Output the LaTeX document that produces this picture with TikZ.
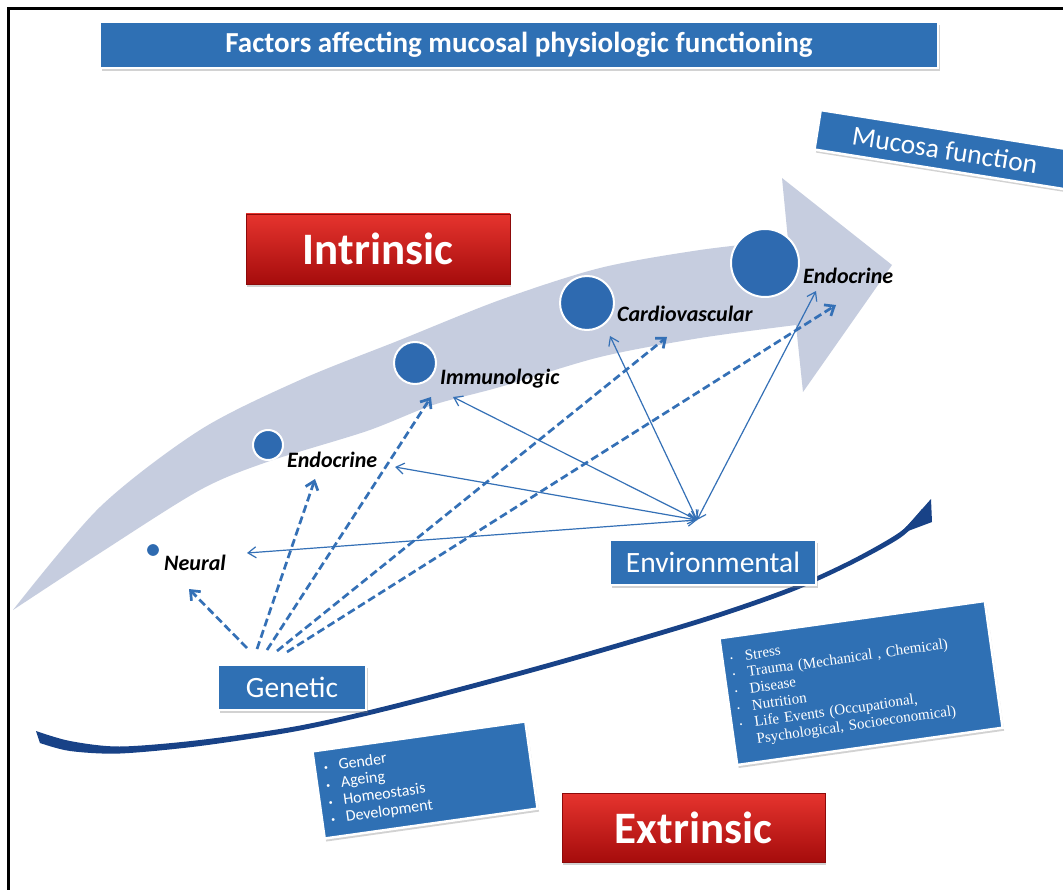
\documentclass[tikz,border=0pt]{standalone}
\usepackage{fontspec}
\setmainfont{Carlito}
\newfontfamily\timesf{Liberation Serif}
\usetikzlibrary{arrows.meta,shadows}
\definecolor{boxblue}{RGB}{47,112,180}
\definecolor{circblue}{RGB}{46,106,176}
\definecolor{arrowgrey}{RGB}{198,205,223}
\definecolor{swooshblue}{RGB}{24,66,135}
\definecolor{linkblue}{RGB}{52,112,182}
\definecolor{redtop}{RGB}{230,52,46}
\definecolor{redbot}{RGB}{165,12,12}
\definecolor{redline}{RGB}{140,10,10}
\newcommand{\bul}{\makebox[15pt][l]{\fontsize{8}{8}\selectfont\raisebox{1pt}{•}}}
\begin{document}
\begin{tikzpicture}[x=1pt,y=-1pt,
  bluebox/.style={fill=boxblue, draw=white, line width=2.5pt, text=white, inner sep=0pt,
    drop shadow={shadow xshift=1.5pt,shadow yshift=-3pt,opacity=0.35}},
  redbox/.style={top color=redtop, bottom color=redbot, draw=redline, line width=0.8pt,
    text=white, inner sep=0pt, font=\fontsize{45}{45}\selectfont\bfseries,
    drop shadow={shadow xshift=1pt,shadow yshift=-3pt,opacity=0.35}},
  dot/.style={circle, fill=circblue, draw=white, line width=2pt, inner sep=0pt},
  lbl/.style={anchor=west, inner sep=0pt, font=\fontsize{22}{22}\selectfont\bfseries\itshape},
  gen/.style={linkblue, line width=2.7pt, dash pattern=on 8pt off 4pt,
    -{Straight Barb[length=8pt,width=13pt]}},
  env/.style={linkblue, line width=1.2pt,
    {Straight Barb[length=8pt,width=11pt]}-{Straight Barb[length=8pt,width=11pt]}},
]
\useasboundingbox (0,0) rectangle (1063,890);
\clip (0,0) rectangle (1063,890);
\fill[white] (0,0) rectangle (1063,890);
% frame
\draw[line width=3.5pt] (8.5,895) -- (8.5,8.5) -- (1070,8.5);

% big curved grey arrow
\fill[arrowgrey] plot[smooth] coordinates {(13,610) (100,507) (200,430) (300,380) (400,340) (500,300) (600,268) (700,250) (788,240)}
  -- (782,178) -- (892,265) -- (803,392) -- (796,325)
  -- plot[smooth] coordinates {(796,325) (700,338) (600,357) (500,387) (433,405) (367,431) (267,462) (200,490) (100,553) (13,610)} -- cycle;

% dark blue swoosh
\fill[swooshblue] plot[smooth] coordinates {(36,731) (70,741) (120,746.5) (200,740) (300,725.5) (400,702.5) (550,662.5) (700,618.5) (790,587.5) (850,560.5) (900,532) (922,509)}
  -- plot[smooth] coordinates {(922,517) (900,538) (850,565.5) (790,592.5) (700,623.5) (550,667.5) (400,707.5) (300,730.5) (200,746) (120,753.5) (70,751) (40,743)} -- cycle;
\fill[swooshblue] (900,534) -- (931,499) -- (932,522) -- cycle;

% title and boxes
\node[bluebox, minimum width=838pt, minimum height=46pt, font=\fontsize{29}{29}\selectfont\bfseries] (title) at (519,45) {Factors affecting mucosal physiologic functioning};
\node[bluebox, rotate=-9, minimum width=258pt, minimum height=40pt, font=\fontsize{27.5}{27.5}\selectfont] (mucosa) at (945,150) {Mucosa function};
\node[redbox, minimum width=264pt, minimum height=70pt] (intr) at (378,249) {Intrinsic};
\node[redbox, minimum width=263pt, minimum height=69pt] (extr) at (693.5,827.5) {Extrinsic};

% circles and labels
\node[dot, minimum size=14pt] (cN) at (153,550) {};
\node[dot, minimum size=30pt] (cE1) at (268,445) {};
\node[dot, minimum size=42pt] (cI) at (415,363) {};
\node[dot, minimum size=54pt] (cC) at (587,303) {};
\node[dot, minimum size=68pt] (cE2) at (765,263) {};
\node[lbl] (lN) at (164,563) {Neural};
\node[lbl] (lE1) at (287,460) {Endocrine};
\node[lbl] (lI) at (440,379) {Immunologic};
\node[lbl] (lC) at (617,314) {Cardiovascular};
\node[lbl] (lE2) at (803,276) {Endocrine};

% connector end points
\coordinate (gN) at (247,648);
\coordinate (gE1) at (257,649);
\coordinate (gI) at (267,650);
\coordinate (gC) at (277,651);
\coordinate (gE2) at (287,652);
\coordinate (tN) at (189,589);
\coordinate (tE1) at (315,479);
\coordinate (tI) at (431,397);
\coordinate (tC) at (667,337);
\coordinate (tE2) at (836,305);
\coordinate (env) at (697,520);
\coordinate (sN) at (247,553);
\coordinate (sE1) at (395,467);
\coordinate (sI) at (453,397);
\coordinate (sC) at (610,336);
\coordinate (sE2) at (816,291);

% genetic (dashed) connectors
\draw[gen] (gN) -- (tN);
\draw[gen] (gE1) -- (tE1);
\draw[gen] (gI) -- (tI);
\draw[gen] (gC) -- (tC);
\draw[gen] (gE2) -- (tE2);
% environmental (solid) connectors
\draw[env] (env) -- (sN);
\draw[env] (env) -- (sE1);
\draw[env] (env) -- (sI);
\draw[env] (env) -- (sC);
\draw[env] (env) -- (sE2);

% factor boxes
\node[bluebox, minimum width=148pt, minimum height=45pt, font=\fontsize{29.5}{29.5}\selectfont] (genetic) at (292,687.5) {Genetic};
\node[bluebox, minimum width=206pt, minimum height=45pt, font=\fontsize{29.5}{29.5}\selectfont] (environ) at (713,562.5) {Environmental};

\node[bluebox, rotate=8, minimum width=215pt, minimum height=88pt, text width=197pt, align=left,
  font=\fontsize{16}{17.5}\selectfont] (gbox) at (425,780)
  {\bul Gender\\ \bul Ageing\\ \bul Homeostasis\\ \bul Development};
\node[bluebox, rotate=8, minimum width=268pt, minimum height=128pt, text width=252pt, align=left,
  font=\timesf\fontsize{15}{16.8}\selectfont] (ebox) at (861,683)
  {\bul Stress\\ \bul Trauma (Mechanical , Chemical)\\ \bul Disease\\ \bul Nutrition\\ \bul Life Events (Occupational,\\ \makebox[15pt]{}Psychological, Socioeconomical)};
\end{tikzpicture}
\end{document}
